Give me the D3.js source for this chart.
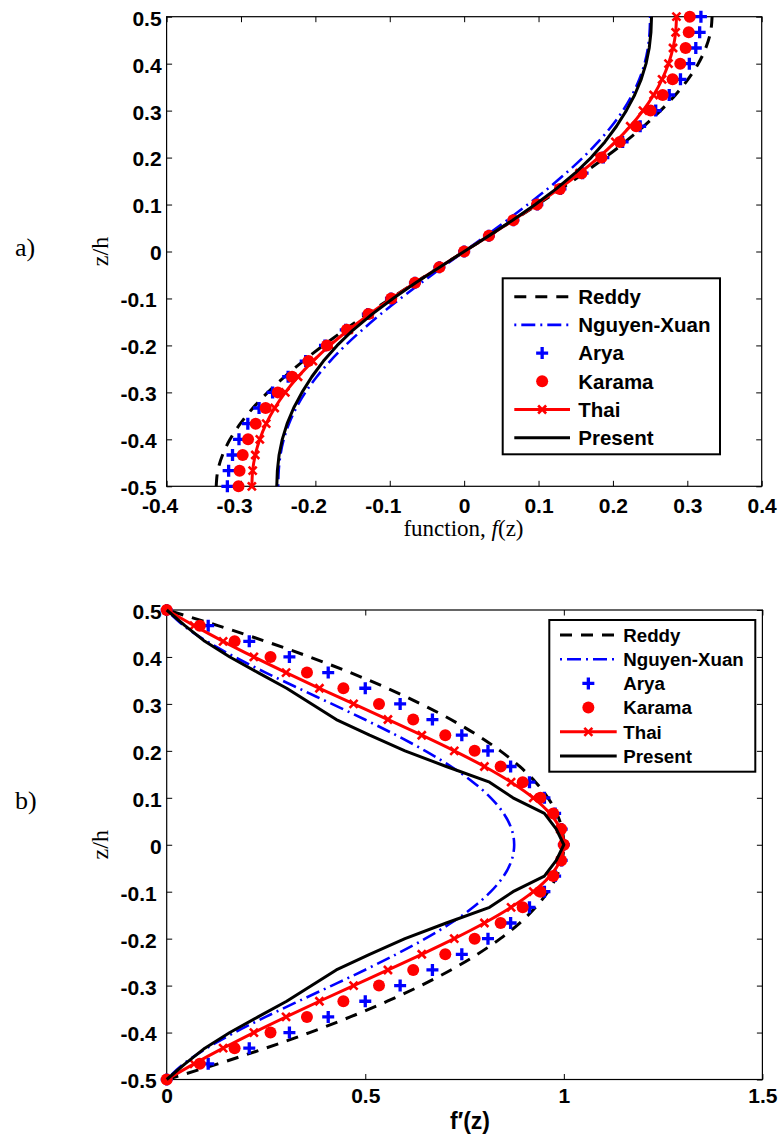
<!DOCTYPE html>
<html><head><meta charset="utf-8">
<script src="https://cdn.jsdelivr.net/npm/d3@7"></script>
<style>
body{margin:0;background:#fff;}
svg{display:block;}
</style></head><body>
<svg id="c" width="781" height="1140"></svg>
<script>
// ---------------- DATA ----------------
const zValues = [-0.5,-0.4667,-0.4333,-0.4,-0.3667,-0.3333,-0.3,-0.2667,-0.2333,-0.2,-0.1667,-0.1333,-0.1,-0.0667,-0.0333,0,0.0333,0.0667,0.1,0.1333,0.1667,0.2,0.2333,0.2667,0.3,0.3333,0.3667,0.4,0.4333,0.4667,0.5];
const seriesNames = ["Reddy","Nguyen-Xuan","Arya","Karama","Thai","Present"];

// panel a) shear function f(z)
const reddyF   = [-0.3333,-0.3312,-0.3248,-0.3147,-0.3009,-0.2840,-0.2640,-0.2414,-0.2164,-0.1893,-0.1605,-0.1302,-0.0987,-0.0663,-0.0333,0,0.0333,0.0663,0.0987,0.1302,0.1605,0.1893,0.2164,0.2414,0.2640,0.2840,0.3009,0.3147,0.3248,0.3312,0.3333];
const nguyenF  = [-0.2500,-0.2493,-0.2470,-0.2425,-0.2355,-0.2258,-0.2134,-0.1981,-0.1801,-0.1596,-0.1368,-0.1120,-0.0855,-0.0577,-0.0291,0,0.0291,0.0577,0.0855,0.1120,0.1368,0.1596,0.1801,0.1981,0.2134,0.2258,0.2355,0.2425,0.2470,0.2493,0.2500];
const aryaF    = [-0.3183,-0.3166,-0.3114,-0.3027,-0.2908,-0.2757,-0.2575,-0.2366,-0.2130,-0.1871,-0.1592,-0.1295,-0.0984,-0.0662,-0.0333,0,0.0333,0.0662,0.0984,0.1295,0.1592,0.1871,0.2130,0.2366,0.2575,0.2757,0.2908,0.3027,0.3114,0.3166,0.3183];
const karamaF  = [-0.3033,-0.3019,-0.2977,-0.2905,-0.2802,-0.2669,-0.2506,-0.2313,-0.2093,-0.1846,-0.1577,-0.1287,-0.0980,-0.0661,-0.0333,0,0.0333,0.0661,0.0980,0.1287,0.1577,0.1846,0.2093,0.2313,0.2506,0.2669,0.2802,0.2905,0.2977,0.3019,0.3033];
const thaiF    = [-0.2854,-0.2843,-0.2808,-0.2747,-0.2661,-0.2547,-0.2404,-0.2233,-0.2033,-0.1805,-0.1551,-0.1273,-0.0974,-0.0659,-0.0332,0,0.0332,0.0659,0.0974,0.1273,0.1551,0.1805,0.2033,0.2233,0.2404,0.2547,0.2661,0.2747,0.2808,0.2843,0.2854];
const presentF = [-0.2519,-0.2511,-0.2488,-0.2445,-0.2380,-0.2292,-0.2180,-0.2048,-0.1892,-0.1707,-0.1490,-0.1237,-0.0956,-0.0652,-0.0330,0,0.0330,0.0652,0.0956,0.1237,0.1490,0.1707,0.1892,0.2048,0.2180,0.2292,0.2380,0.2445,0.2488,0.2511,0.2519];

// panel b) derivative f'(z)
const reddyDF   = [0,0.1289,0.2489,0.3600,0.4622,0.5556,0.6400,0.7156,0.7822,0.8400,0.8889,0.9289,0.9600,0.9822,0.9956,1,0.9956,0.9822,0.9600,0.9289,0.8889,0.8400,0.7822,0.7156,0.6400,0.5556,0.4622,0.3600,0.2489,0.1289,0];
const nguyenDF  = [0,0.0426,0.1010,0.1710,0.2491,0.3318,0.4160,0.4989,0.5780,0.6510,0.7161,0.7715,0.8160,0.8485,0.8684,0.875,0.8684,0.8485,0.8160,0.7715,0.7161,0.6510,0.5780,0.4989,0.4160,0.3318,0.2491,0.1710,0.1010,0.0426,0];
const aryaDF    = [0,0.1045,0.2079,0.3090,0.4067,0.5000,0.5878,0.6691,0.7431,0.8090,0.8660,0.9135,0.9511,0.9781,0.9945,1,0.9945,0.9781,0.9511,0.9135,0.8660,0.8090,0.7431,0.6691,0.5878,0.5000,0.4067,0.3090,0.2079,0.1045,0];
const karamaDF  = [0,0.0834,0.1710,0.2614,0.3532,0.4449,0.5346,0.6207,0.7015,0.7754,0.8409,0.8964,0.9410,0.9735,0.9933,1,0.9933,0.9735,0.9410,0.8964,0.8409,0.7754,0.7015,0.6207,0.5346,0.4449,0.3532,0.2614,0.1710,0.0834,0];
const thaiDF    = [0,0.0689,0.1421,0.2195,0.3006,0.3846,0.4706,0.5571,0.6423,0.7241,0.8000,0.8672,0.9231,0.9651,0.9912,1,0.9912,0.9651,0.9231,0.8672,0.8000,0.7241,0.6423,0.5571,0.4706,0.3846,0.3006,0.2195,0.1421,0.0689,0];
const presentDF = [0,0.046,0.096,0.159,0.230,0.302,0.365,0.427,0.511,0.600,0.704,0.813,0.872,0.951,0.981,1,0.981,0.951,0.872,0.813,0.704,0.600,0.511,0.427,0.365,0.302,0.230,0.159,0.096,0.046,0];

const xTicksA = [-0.4,-0.3,-0.2,-0.1,0,0.1,0.2,0.3,0.4];
const xTicksB = [0,0.5,1,1.5];
const yTicks  = [-0.5,-0.4,-0.3,-0.2,-0.1,0,0.1,0.2,0.3,0.4,0.5];

// ---------------- STYLE ----------------
const styles = {
  "Reddy":       {line:true,  color:"#000000", width:3,   dash:"12,9"},
  "Nguyen-Xuan": {line:true,  color:"#0000ff", width:2.6, dash:"2,5,14,5"},
  "Arya":        {line:false, color:"#0000ff", marker:"plus"},
  "Karama":      {line:false, color:"#ff0000", marker:"dot"},
  "Thai":        {line:true,  color:"#ff0000", width:3, marker:"x"},
  "Present":     {line:true,  color:"#000000", width:3, linear:true}
};
const SANS = "'Liberation Sans', Arial, Helvetica, sans-serif";
const SERIF = "'Liberation Serif', 'Times New Roman', serif";

const svg = d3.select("#c");

function drawMarker(g, type, x, y, color) {
  if (type === "plus") {
    g.append("path").attr("d", `M${x-6},${y}h12M${x},${y-6}v12`)
      .attr("stroke", color).attr("stroke-width", 3.3).attr("fill", "none");
  } else if (type === "dot") {
    g.append("circle").attr("cx", x).attr("cy", y).attr("r", 6).attr("fill", color);
  } else if (type === "x") {
    g.append("path").attr("d", `M${x-4},${y-4}l8,8M${x-4},${y+4}l8,-8`)
      .attr("stroke", color).attr("stroke-width", 2.6).attr("fill", "none");
  }
}

function panel(cfg) {
  const g = svg.append("g");
  const x = d3.scaleLinear().domain(cfg.xDomain).range([cfg.x0, cfg.x1]);
  const y = d3.scaleLinear().domain([-0.5, 0.5]).range([cfg.y1, cfg.y0]);

  // ticks (inward, mirrored) + labels
  const fmt = d => d === 0 ? "0" : String(+d.toFixed(2));
  const axB = g.append("g").attr("transform", `translate(0,${cfg.y1})`)
    .call(d3.axisBottom(x).tickValues(cfg.xTicks).tickSize(-5.5).tickPadding(cfg.xPad).tickFormat(fmt));
  const axT = g.append("g").attr("transform", `translate(0,${cfg.y0})`)
    .call(d3.axisTop(x).tickValues(cfg.xTicks).tickSize(-5.5).tickFormat(""));
  const axL = g.append("g").attr("transform", `translate(${cfg.x0},0)`)
    .call(d3.axisLeft(y).tickValues(yTicks).tickSize(-5.5).tickPadding(5).tickFormat(fmt));
  const axR = g.append("g").attr("transform", `translate(${cfg.x1},0)`)
    .call(d3.axisRight(y).tickValues(yTicks).tickSize(-5.5).tickFormat(""));
  [axB, axT, axL, axR].forEach(a => {
    a.select(".domain").remove();
    a.selectAll(".tick line").attr("stroke", "#000").attr("stroke-width", 1);
    a.selectAll("text").attr("font-family", SANS).attr("font-weight", "bold")
      .attr("font-size", 21).attr("fill", "#000");
  });
  axB.selectAll("text").attr("dx", d => d < 0 ? -7 : 0);
  axL.selectAll("text").attr("dy", "0.4em").attr("dx", d => d < 0 ? -5 : 0);

  // box
  g.append("rect").attr("x", cfg.x0).attr("y", cfg.y0)
    .attr("width", cfg.x1 - cfg.x0).attr("height", cfg.y1 - cfg.y0)
    .attr("fill", "none").attr("stroke", "#000").attr("stroke-width", 1.2);

  // series
  const plotG = g.append("g");
  seriesNames.forEach(name => {
    const st = styles[name];
    const vals = cfg.data[name];
    const pts = zValues.map((z, i) => [x(vals[i]), y(z)]);
    if (st.line) {
      const line = d3.line().curve(st.linear ? d3.curveLinear : d3.curveMonotoneY);
      plotG.append("path").attr("d", line(pts)).attr("fill", "none")
        .attr("stroke", st.color).attr("stroke-width", st.width)
        .attr("stroke-dasharray", st.dash || null)
        .attr("stroke-linejoin", "round");
    }
    if (st.marker) {
      const mg = plotG.append("g");
      pts.forEach(p => drawMarker(mg, st.marker, p[0], p[1], st.color));
    }
  });

  // legend
  const L = cfg.legend;
  const lg = g.append("g");
  lg.append("rect").attr("x", L.x).attr("y", L.y).attr("width", L.w).attr("height", L.h)
    .attr("fill", "#fff").attr("stroke", "#000").attr("stroke-width", 2);
  seriesNames.forEach((name, i) => {
    const st = styles[name];
    const cy = L.row0 + i * L.step;
    if (st.line) {
      lg.append("line").attr("x1", L.lx0).attr("x2", L.lx1).attr("y1", cy).attr("y2", cy)
        .attr("stroke", st.color).attr("stroke-width", st.width)
        .attr("stroke-dasharray", st.dash || null);
    }
    if (st.marker) drawMarker(lg, st.marker, (L.lx0 + L.lx1) / 2, cy, st.color);
    lg.append("text").attr("x", L.tx).attr("y", cy).attr("dy", "0.36em")
      .attr("font-family", SANS).attr("font-weight", "bold").attr("font-size", L.font)
      .attr("fill", "#000").text(name);
  });

  // axis titles
  cfg.xTitle(g);
  g.append("text").attr("transform", `translate(${cfg.yTitleX},${(cfg.y0 + cfg.y1) / 2}) rotate(-90)`)
    .attr("text-anchor", "middle").attr("font-family", SERIF).attr("font-size", 24)
    .attr("fill", "#000").text("z/h");
  g.append("text").attr("x", 15).attr("y", cfg.tagY).attr("font-family", SERIF)
    .attr("font-size", 26).attr("fill", "#000").text(cfg.tag);
}

panel({
  x0: 166.6, x1: 761.7, y0: 16.7, y1: 486.3,
  xDomain: [-0.4, 0.4], xTicks: xTicksA, xPad: 12,
  data: {"Reddy": reddyF, "Nguyen-Xuan": nguyenF, "Arya": aryaF, "Karama": karamaF, "Thai": thaiF, "Present": presentF},
  legend: {x: 502.7, y: 278.3, w: 217.3, h: 176, row0: 296.7, step: 28.2, lx0: 514.3, lx1: 570, tx: 578.3, font: 20.5},
  xTitle: g => {
    const t = g.append("text").attr("x", 463.5).attr("y", 536).attr("text-anchor", "middle")
      .attr("font-family", SERIF).attr("font-size", 23).attr("fill", "#000");
    t.append("tspan").text("function, ");
    t.append("tspan").attr("font-style", "italic").text("f");
    t.append("tspan").text("(z)");
  },
  yTitleX: 108, tag: "a)", tagY: 256
});

panel({
  x0: 166.7, x1: 762.4, y0: 610, y1: 1079.5,
  xDomain: [0, 1.5], xTicks: xTicksB, xPad: 9,
  data: {"Reddy": reddyDF, "Nguyen-Xuan": nguyenDF, "Arya": aryaDF, "Karama": karamaDF, "Thai": thaiDF, "Present": presentDF},
  legend: {x: 549.3, y: 620, w: 206, h: 151.7, row0: 635, step: 24.2, lx0: 560, lx1: 616.7, tx: 623.3, font: 18.7},
  xTitle: g => {
    g.append("text").attr("x", 470).attr("y", 1129).attr("text-anchor", "middle")
      .attr("font-family", SANS).attr("font-weight", "bold").attr("font-size", 23)
      .attr("fill", "#000").text("f\u2032(z)");
  },
  yTitleX: 108, tag: "b)", tagY: 809
});
</script>
</body></html>
